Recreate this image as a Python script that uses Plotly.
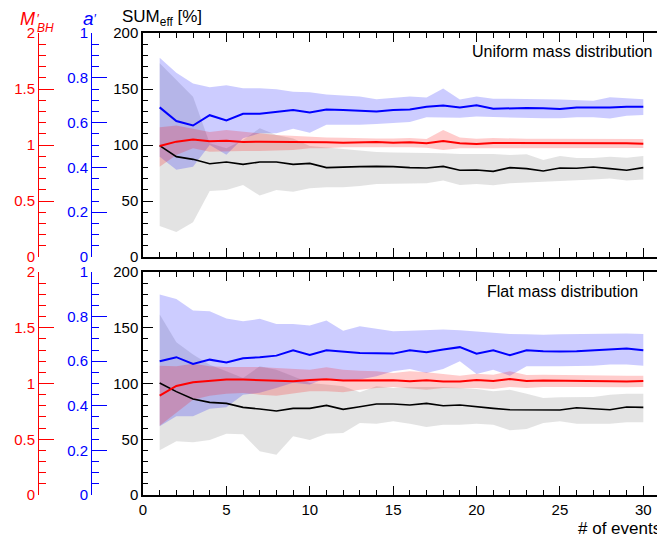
import plotly.graph_objects as go

events = list(range(1, 31))

# ---------------- Uniform mass distribution (top panel) ----------------
uni_a_mid = [0.668, 0.607, 0.587, 0.633, 0.610, 0.639, 0.639, 0.646, 0.656, 0.645,
             0.658, 0.656, 0.654, 0.649, 0.656, 0.659, 0.671, 0.676, 0.668, 0.677,
             0.662, 0.665, 0.665, 0.664, 0.661, 0.667, 0.667, 0.667, 0.671, 0.671]
uni_a_hi = [0.889, 0.823, 0.775, 0.758, 0.767, 0.753, 0.753, 0.749, 0.738, 0.735,
            0.726, 0.720, 0.716, 0.704, 0.709, 0.716, 0.712, 0.752, 0.703, 0.716,
            0.707, 0.707, 0.706, 0.704, 0.703, 0.701, 0.698, 0.713, 0.710, 0.704]
uni_a_lo = [0.448, 0.389, 0.403, 0.500, 0.456, 0.530, 0.552, 0.552, 0.572, 0.555,
            0.590, 0.590, 0.590, 0.594, 0.600, 0.603, 0.624, 0.624, 0.622, 0.627,
            0.624, 0.622, 0.621, 0.619, 0.619, 0.624, 0.624, 0.618, 0.631, 0.634]
uni_m_mid = [0.991, 1.030, 1.048, 1.033, 1.039, 1.027, 1.030, 1.030, 1.024, 1.027,
             1.024, 1.021, 1.024, 1.027, 1.021, 1.024, 1.015, 1.036, 1.015, 1.009,
             1.018, 1.018, 1.018, 1.021, 1.021, 1.018, 1.018, 1.018, 1.015, 1.012]
uni_m_hi = [1.158, 1.173, 1.146, 1.116, 1.134, 1.116, 1.104, 1.089, 1.080, 1.074,
            1.068, 1.065, 1.059, 1.059, 1.059, 1.062, 1.053, 1.134, 1.068, 1.056,
            1.062, 1.056, 1.056, 1.056, 1.056, 1.056, 1.059, 1.056, 1.056, 1.053]
uni_m_lo = [0.806, 0.911, 0.970, 0.940, 0.946, 0.946, 0.946, 0.949, 0.955, 0.970,
            0.970, 0.979, 0.979, 0.979, 0.979, 0.979, 0.976, 0.955, 0.970, 0.970,
            0.973, 0.976, 0.973, 0.973, 0.973, 0.973, 0.973, 0.973, 0.973, 0.973]
uni_s_mid = [99.4, 89.6, 87.2, 83.3, 84.8, 82.7, 84.8, 84.8, 82.7, 83.6,
             79.8, 80.4, 80.7, 80.9, 80.7, 79.8, 79.5, 80.9, 77.4, 77.7,
             76.5, 79.8, 78.9, 76.8, 79.5, 79.2, 80.4, 78.9, 77.4, 79.8]
uni_s_hi = [172.9, 158.0, 143.1, 101.5, 97.0, 104.5, 114.9, 108.9, 105.9, 99.0,
            97.6, 96.1, 94.6, 93.7, 93.2, 93.2, 92.6, 92.6, 92.0, 92.0,
            92.0, 91.1, 91.7, 86.6, 90.2, 88.4, 88.4, 89.6, 88.7, 90.2]
uni_s_lo = [27.7, 22.3, 31.0, 58.9, 59.8, 64.3, 54.8, 59.8, 58.3, 61.3,
            62.2, 62.2, 63.4, 65.2, 65.8, 65.8, 65.8, 68.2, 64.3, 65.2,
            64.0, 65.8, 66.4, 67.0, 68.2, 68.7, 69.3, 70.2, 68.2, 69.3]

# ---------------- Flat mass distribution (bottom panel) ----------------
flat_a_mid = [0.600, 0.618, 0.588, 0.607, 0.594, 0.613, 0.618, 0.625, 0.649, 0.628,
              0.649, 0.642, 0.637, 0.636, 0.634, 0.649, 0.640, 0.652, 0.663, 0.634,
              0.649, 0.627, 0.649, 0.645, 0.643, 0.645, 0.649, 0.655, 0.657, 0.649]
flat_a_hi = [0.899, 0.879, 0.827, 0.824, 0.791, 0.779, 0.790, 0.767, 0.767, 0.760,
             0.782, 0.737, 0.757, 0.745, 0.734, 0.737, 0.739, 0.742, 0.739, 0.733,
             0.727, 0.722, 0.721, 0.719, 0.721, 0.722, 0.724, 0.724, 0.724, 0.722]
flat_a_lo = [0.308, 0.353, 0.353, 0.387, 0.393, 0.450, 0.458, 0.480, 0.503, 0.495,
             0.525, 0.510, 0.518, 0.532, 0.555, 0.565, 0.547, 0.565, 0.600, 0.543,
             0.562, 0.535, 0.577, 0.577, 0.577, 0.577, 0.580, 0.585, 0.585, 0.580]
flat_m_mid = [0.891, 0.978, 1.011, 1.026, 1.035, 1.035, 1.032, 1.029, 1.020, 1.032,
              1.038, 1.026, 1.029, 1.032, 1.029, 1.020, 1.029, 1.017, 1.017, 1.032,
              1.023, 1.041, 1.023, 1.026, 1.026, 1.026, 1.023, 1.020, 1.017, 1.023]
flat_m_hi = [1.160, 1.154, 1.178, 1.154, 1.148, 1.148, 1.148, 1.139, 1.133, 1.124,
             1.145, 1.124, 1.115, 1.109, 1.094, 1.109, 1.100, 1.088, 1.070, 1.088,
             1.079, 1.109, 1.076, 1.079, 1.076, 1.076, 1.070, 1.070, 1.070, 1.070]
flat_m_lo = [0.622, 0.736, 0.855, 0.891, 0.909, 0.915, 0.900, 0.891, 0.909, 0.930,
             0.930, 0.921, 0.945, 0.960, 0.969, 0.960, 0.945, 0.960, 0.957, 0.960,
             0.951, 0.969, 0.960, 0.969, 0.969, 0.969, 0.969, 0.969, 0.966, 0.969]
flat_s_mid = [100.5, 92.7, 86.1, 83.1, 82.2, 78.6, 77.1, 75.3, 77.7, 77.7,
              80.4, 76.8, 79.2, 81.6, 81.6, 80.7, 82.2, 80.1, 80.7, 78.9,
              77.7, 76.5, 76.2, 76.2, 76.2, 78.3, 77.1, 76.5, 78.9, 78.6]
flat_s_hi = [161.8, 137.0, 125.9, 116.9, 111.0, 105.0, 115.4, 112.4, 106.4, 100.5,
             99.0, 97.5, 92.1, 97.5, 96.0, 96.9, 96.9, 96.9, 96.0, 95.1,
             93.0, 94.5, 90.9, 87.0, 87.6, 87.6, 87.9, 90.0, 90.9, 90.9]
flat_s_lo = [40.1, 48.1, 47.2, 49.3, 55.0, 54.4, 39.2, 36.2, 52.6, 49.3,
             55.0, 55.6, 64.6, 64.0, 66.1, 64.0, 61.0, 63.1, 63.1, 64.0,
             63.1, 58.0, 59.2, 64.6, 66.1, 64.0, 64.0, 64.0, 65.2, 65.2]

# axis ranges
SUM_RANGE = [0, 200]
A_RANGE = [0, 1]
M_RANGE = [0, 2]
X_RANGE = [0, 31]

A_SCALE = SUM_RANGE[1] / A_RANGE[1]
M_SCALE = SUM_RANGE[1] / M_RANGE[1]

# page is 665x538, the html body has an 8px margin
OFF = 8
W, H = 665 - OFF, 538 - OFF
FONT = "Liberation Sans, Arial, Helvetica, sans-serif"
BLUE = "#0000ff"
RED = "#ff0000"


def fx(px):
    return (px - OFF) / W


def fy(py):
    return 1 - (py - OFF) / H


fig = go.Figure()


def add_panel(xa, ya, a_mid, a_lo, a_hi, m_mid, m_lo, m_hi, s_mid, s_lo, s_hi):
    def sc(v, k):
        return [x * k for x in v]

    def band(lo, hi, color):
        fig.add_trace(go.Scatter(
            x=events + events[::-1], y=hi + lo[::-1], mode="lines",
            fill="toself", fillcolor=color, line=dict(width=0, color=color),
            hoverinfo="skip", showlegend=False, xaxis=xa, yaxis=ya))

    def line(v, color, w):
        fig.add_trace(go.Scatter(
            x=events, y=v, mode="lines", line=dict(color=color, width=w),
            showlegend=False, xaxis=xa, yaxis=ya))

    band(s_lo, s_hi, "rgba(150,150,150,0.27)")
    band(sc(a_lo, A_SCALE), sc(a_hi, A_SCALE), "rgba(0,0,255,0.2)")
    band(sc(m_lo, M_SCALE), sc(m_hi, M_SCALE), "rgba(255,0,0,0.2)")
    line(s_mid, "black", 1.6)
    line(sc(a_mid, A_SCALE), BLUE, 2)
    line(sc(m_mid, M_SCALE), RED, 2)


add_panel("x", "y", uni_a_mid, uni_a_lo, uni_a_hi, uni_m_mid, uni_m_lo, uni_m_hi,
          uni_s_mid, uni_s_lo, uni_s_hi)
add_panel("x2", "y4", flat_a_mid, flat_a_lo, flat_a_hi, flat_m_mid, flat_m_lo, flat_m_hi,
          flat_s_mid, flat_s_lo, flat_s_hi)

# invisible traces so the extra axes are drawn
for ya, xa in [("y2", "x"), ("y3", "x"), ("y5", "x2"), ("y6", "x2")]:
    fig.add_trace(go.Scatter(x=[1], y=[0.5], xaxis=xa, yaxis=ya, showlegend=False,
                             mode="markers", marker=dict(opacity=0),
                             hoverinfo="skip"))

X_DOM = [fx(143), fx(660)]
TOP_DOM = [fy(257), fy(33)]
BOT_DOM = [fy(495), fy(272)]


def xaxis(anchor, labels):
    return dict(domain=X_DOM, anchor=anchor, range=X_RANGE, showline=True,
                linecolor="black", linewidth=1.5, ticks="inside", tick0=0, dtick=5,
                ticklen=9, tickcolor="black", tickwidth=1, mirror="ticks",
                showgrid=False, zeroline=False, showticklabels=labels,
                automargin=False,
                tickfont=dict(size=15, color="black", family=FONT),
                minor=dict(dtick=1, ticklen=5, ticks="inside", tickcolor="black"))


def sum_axis(dom, anchor):
    return dict(domain=dom, anchor=anchor, range=SUM_RANGE, showline=True,
                linecolor="black", linewidth=1.5, ticks="inside", dtick=50,
                ticklen=10, tickcolor="black", mirror=True, showgrid=False,
                zeroline=False, automargin=False,
                tickfont=dict(size=15, color="black", family=FONT),
                minor=dict(dtick=10, ticklen=5, ticks="inside", tickcolor="black"))


def side_axis(over, pos, rng, dt, mdt, color):
    return dict(overlaying=over, anchor="free", position=pos, side="left",
                range=rng, showline=True, linecolor=color, linewidth=1,
                ticks="inside", dtick=dt, ticklen=15, tickcolor=color,
                showgrid=False, zeroline=False, automargin=False,
                tickfont=dict(size=15, color=color, family=FONT),
                minor=dict(dtick=mdt, ticklen=7, ticks="inside", tickcolor=color))


fig.update_layout(
    width=W, height=H, margin=dict(l=0, r=0, t=0, b=0),
    paper_bgcolor="white", plot_bgcolor="white",
    font=dict(family=FONT, color="black"),
    showlegend=False,
    xaxis=xaxis("y", False),
    xaxis2=xaxis("y4", True),
    yaxis=sum_axis(TOP_DOM, "x"),
    yaxis2=side_axis("y", fx(91), A_RANGE, 0.2, 0.05, BLUE),
    yaxis3=side_axis("y", fx(38), M_RANGE, 0.5, 0.1, RED),
    yaxis4=sum_axis(BOT_DOM, "x2"),
    yaxis5=side_axis("y4", fx(91), A_RANGE, 0.2, 0.05, BLUE),
    yaxis6=side_axis("y4", fx(38), M_RANGE, 0.5, 0.1, RED),
)


def ann(text, x, y, size, color="black", xanchor="center", yanchor="middle"):
    fig.add_annotation(text=text, x=fx(x), y=fy(y), xref="paper", yref="paper",
                       showarrow=False, xanchor=xanchor, yanchor=yanchor,
                       font=dict(size=size, color=color, family=FONT))


ann("Uniform mass distribution", 655, 52, 16, xanchor="right")
ann("Flat mass distribution", 640, 291, 16, xanchor="right")
ann("# of events", 663, 528, 17, xanchor="right")
ann("SUM<sub>eff</sub> [%]", 120, 18, 17, xanchor="left")
ann("<i>a</i>", 88, 19, 19, BLUE)
ann("&#8242;", 95, 9, 13, BLUE, yanchor="top")
ann("<i>M</i>", 27, 19, 18, RED)
ann("<i>BH</i>", 35, 28, 12, RED, xanchor="left")
ann("&#8242;", 38, 9, 13, RED, yanchor="top")

fig.write_html("out.html")
